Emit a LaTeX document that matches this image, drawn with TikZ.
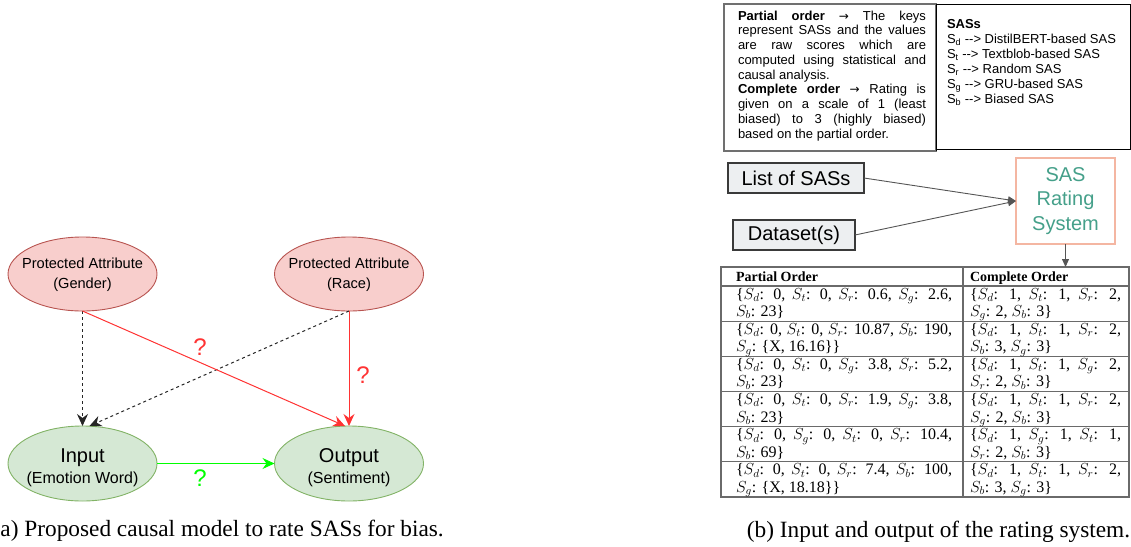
\RequirePackage{fix-cm}
\documentclass[tikz,border=0pt]{standalone}
\usepackage{fontspec}
\setmainfont{Liberation Serif}
\newfontfamily\arial{Liberation Sans}
\newfontfamily\djv{DejaVu Sans}
\usetikzlibrary{arrows.meta,shapes.geometric}
\definecolor{redfill}{HTML}{F8CECC}
\definecolor{reddraw}{HTML}{B85450}
\definecolor{greenfill}{HTML}{D5E8D4}
\definecolor{greendraw}{HTML}{82B366}
\definecolor{arrred}{HTML}{FF3333}
\definecolor{arrgreen}{HTML}{00FF00}
\definecolor{boxfill}{HTML}{EDEFF1}
\definecolor{boxdraw}{HTML}{3A3A3A}
\definecolor{salmon}{HTML}{F4B6A2}
\definecolor{sasteal}{HTML}{45A08A}
\definecolor{arrgray}{HTML}{555555}
\definecolor{tabgray}{HTML}{6A6A6A}
\definecolor{cellgray}{HTML}{707070}
\newcommand{\karr}{{\djv\fontsize{12}{14}\selectfont →}}
\newcommand{\darr}{-\kern0pt-\kern0pt>}
\begin{document}
\begin{tikzpicture}[x=1pt,y=-1pt,
  every node/.style={inner sep=0pt,outer sep=0pt},
  redell/.style={ellipse,draw=reddraw,fill=redfill,line width=0.9pt,minimum width=149pt,minimum height=74pt},
  greenell/.style={ellipse,draw=greendraw,fill=greenfill,line width=0.9pt,minimum width=149pt,minimum height=75pt},
  smalltxt/.style={font=\arial\fontsize{14.6}{17}\selectfont,anchor=base},
  bigtxt/.style={font=\arial\fontsize{20}{24}\selectfont,anchor=base},
  midtxt/.style={font=\arial\fontsize{16}{19}\selectfont,anchor=base},
  qmark/.style={font=\arial\fontsize{24}{28}\selectfont},
  dasharrow/.style={draw=black!85,line width=1pt,dash pattern=on 3pt off 3pt,-{Stealth[length=12pt,width=11pt,inset=4pt]}},
  redarrow/.style={draw=arrred,line width=1pt,-{Stealth[length=12pt,width=11pt,inset=4pt]}},
  greenarrow/.style={draw=arrgreen,line width=1pt,-{Stealth[length=12pt,width=11pt,inset=4pt]}},
  keytxt/.style={font=\arial\fontsize{13}{15}\selectfont,anchor=base west},
  tabhead/.style={font=\fontsize{14}{16}\selectfont,anchor=base west},
  tabtxt/.style={font=\fontsize{16}{18}\selectfont,anchor=base west},
  captxt/.style={font=\fontsize{23.3}{27}\selectfont},
  graybox/.style={draw=boxdraw,fill=boxfill,line width=2.4pt,font=\arial\fontsize{20}{24}\selectfont},
  sasbox/.style={draw=salmon,line width=2.6pt,fill=white,text=sasteal,align=center,font=\arial\fontsize{20}{24.5}\selectfont},
  grayarrow/.style={draw=arrgray,line width=0.9pt,-{Triangle[length=8pt,width=7pt]}},
  tabline/.style={draw=tabgray,line width=1.1pt}]
\useasboundingbox (0,0) rectangle (1131,546);

% ---------------- (a) causal model ----------------
\node[redell] (gender) at (82.5,274) {};
\node[redell] (race) at (349,274) {};
\node[greenell] (input) at (82.5,463.5) {};
\node[greenell] (output) at (349,463.5) {};

\node[smalltxt] (g1) at (82.5,268) {Protected Attribute};
\node[smalltxt] (g2) at (82.5,288.5) {(Gender)};
\node[smalltxt] (r1) at (349,268) {Protected Attribute};
\node[smalltxt] (r2) at (349,288.5) {(Race)};
\node[bigtxt] (i1) at (82.5,462) {Input};
\node[midtxt] (i2) at (82.5,483) {(Emotion Word)};
\node[bigtxt] (o1) at (349,462) {Output};
\node[midtxt] (o2) at (349,483) {(Sentiment)};

\draw[dasharrow] (gender.south) -- (input.north);
\draw[dasharrow] (race.south) -- ([xshift=7pt]input.north);
\draw[redarrow] (gender.south) -- ([xshift=-4pt]output.north);
\draw[redarrow] (race.south) -- (output.north);
\draw[greenarrow] (input.east) -- (output.west);

\node[qmark,text=arrred] (q1) at (200,347) {?};
\node[qmark,text=arrred] (q2) at (363,375) {?};
\node[qmark,text=arrgreen] (q3) at (200,478) {?};

\node[captxt,anchor=base west] (capa) at (0.5,536) {a) Proposed causal model to rate SASs for bias.};

% ---------------- (b) key box ----------------
\node[draw=cellgray,line width=1.7pt,anchor=north west,minimum width=212pt,minimum height=147pt] (keyl) at (724,4) {};
\draw[black,line width=1pt] (keyl.north east) -- (1130,4) -- (1130,149) -- (936,149);
\draw[black,line width=1pt] (keyl.north east) -- (keyl.south east);

\node[keytxt] (k1) at (738,20) {\makebox[188pt][s]{\textbf{Partial order} \karr{} The keys}};
\node[keytxt] (k2) at (738,34.75) {\makebox[188pt][s]{represent SASs and the values}};
\node[keytxt] (k3) at (738,49.5) {\makebox[188pt][s]{are raw scores which are}};
\node[keytxt] (k4) at (738,64.25) {\makebox[188pt][s]{computed using statistical and}};
\node[keytxt] (k5) at (738,79) {causal analysis.};
\node[keytxt] (k6) at (738,93.75) {\makebox[188pt][s]{\textbf{Complete order} \karr{} Rating is}};
\node[keytxt] (k7) at (738,108.5) {\makebox[188pt][s]{given on a scale of 1 (least}};
\node[keytxt] (k8) at (738,123.25) {\makebox[188pt][s]{biased) to 3 (highly biased)}};
\node[keytxt] (k9) at (738,138) {based on the partial order.};

\node[keytxt] (s0) at (947,28.5) {\textbf{SASs}};
\node[keytxt] (s1) at (947,43.5) {S\textsubscript{d} \darr{} DistilBERT-based SAS};
\node[keytxt] (s2) at (947,58.5) {S\textsubscript{t} \darr{} Textblob-based SAS};
\node[keytxt] (s3) at (947,73.5) {S\textsubscript{r} \darr{} Random SAS};
\node[keytxt] (s4) at (947,88.5) {S\textsubscript{g} \darr{} GRU-based SAS};
\node[keytxt] (s5) at (947,103.5) {S\textsubscript{b} \darr{} Biased SAS};

% ---------------- (b) flow ----------------
\node[graybox,minimum width=136pt,minimum height=30pt] (list) at (796,178) {List of SASs};
\node[graybox,minimum width=122pt,minimum height=30pt] (data) at (794,235) {Dataset(s)};
\node[sasbox,minimum width=99pt,minimum height=86pt] (sas) at (1065.5,201) {SAS\\Rating\\System};
\draw[grayarrow] (list.east) -- (sas.west);
\draw[grayarrow] (data.east) -- (sas.west);

% ---------------- (b) table ----------------
\node[tabline,draw,anchor=north west,minimum width=408pt,minimum height=230pt] (tab) at (721,267) {};
\draw[grayarrow] (sas.south) -- (sas.south |- tab.north);
\foreach \yy in {286,321.2,356.3,391.5,426.7,461.8} \draw[tabline] (721,\yy) -- (1129,\yy);
\draw[tabline] (963,267) -- (963,497);

\node[tabhead] (h1) at (736,281.5) {\textbf{Partial Order}};
\node[tabhead] (h2) at (970,281.5) {\textbf{Complete Order}};

\node[tabtxt] (a1) at (736,299) {\makebox[216pt][s]{\{$S_d$: 0, $S_t$: 0, $S_r$: 0.6, $S_g$: 2.6,}};
\node[tabtxt] (a2) at (736,316.5) {$S_b$: 23\}};
\node[tabtxt] (b1) at (970,299) {\makebox[151pt][s]{\{$S_d$: 1, $S_t$: 1, $S_r$: 2,}};
\node[tabtxt] (b2) at (970,316.5) {$S_g$: 2, $S_b$: 3\}};

\node[tabtxt] (a3) at (736,334.2) {\makebox[216pt][s]{\{$S_d$: 0, $S_t$: 0, $S_r$: 10.87, $S_b$: 190,}};
\node[tabtxt] (a4) at (736,351.7) {$S_g$: \{X, 16.16\}\}};
\node[tabtxt] (b3) at (970,334.2) {\makebox[151pt][s]{\{$S_d$: 1, $S_t$: 1, $S_r$: 2,}};
\node[tabtxt] (b4) at (970,351.7) {$S_b$: 3, $S_g$: 3\}};

\node[tabtxt] (a5) at (736,369.3) {\makebox[216pt][s]{\{$S_d$: 0, $S_t$: 0, $S_g$: 3.8, $S_r$: 5.2,}};
\node[tabtxt] (a6) at (736,386.8) {$S_b$: 23\}};
\node[tabtxt] (b5) at (970,369.3) {\makebox[151pt][s]{\{$S_d$: 1, $S_t$: 1, $S_g$: 2,}};
\node[tabtxt] (b6) at (970,386.8) {$S_r$: 2, $S_b$: 3\}};

\node[tabtxt] (a7) at (736,404.5) {\makebox[216pt][s]{\{$S_d$: 0, $S_t$: 0, $S_r$: 1.9, $S_g$: 3.8,}};
\node[tabtxt] (a8) at (736,422) {$S_b$: 23\}};
\node[tabtxt] (b7) at (970,404.5) {\makebox[151pt][s]{\{$S_d$: 1, $S_t$: 1, $S_r$: 2,}};
\node[tabtxt] (b8) at (970,422) {$S_g$: 2, $S_b$: 3\}};

\node[tabtxt] (a9) at (736,439.7) {\makebox[216pt][s]{\{$S_d$: 0, $S_g$: 0, $S_t$: 0, $S_r$: 10.4,}};
\node[tabtxt] (a10) at (736,457.2) {$S_b$: 69\}};
\node[tabtxt] (b9) at (970,439.7) {\makebox[151pt][s]{\{$S_d$: 1, $S_g$: 1, $S_t$: 1,}};
\node[tabtxt] (b10) at (970,457.2) {$S_r$: 2, $S_b$: 3\}};

\node[tabtxt] (a11) at (736,474.8) {\makebox[216pt][s]{\{$S_d$: 0, $S_t$: 0, $S_r$: 7.4, $S_b$: 100,}};
\node[tabtxt] (a12) at (736,492.3) {$S_g$: \{X, 18.18\}\}};
\node[tabtxt] (b11) at (970,474.8) {\makebox[151pt][s]{\{$S_d$: 1, $S_t$: 1, $S_r$: 2,}};
\node[tabtxt] (b12) at (970,492.3) {$S_b$: 3, $S_g$: 3\}};

\node[captxt,anchor=base] (capb) at (938.5,537) {(b) Input and output of the rating system.};
\end{tikzpicture}
\end{document}
